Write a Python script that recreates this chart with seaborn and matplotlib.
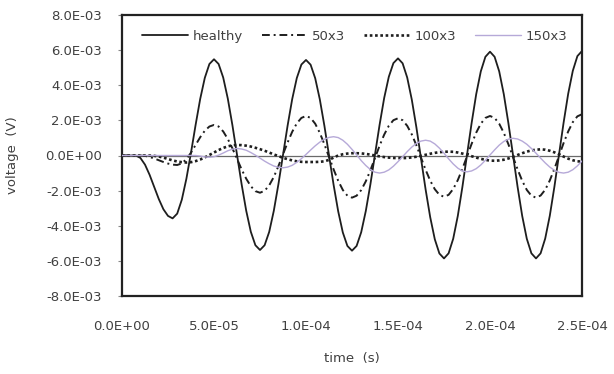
import numpy as np
import pandas as pd
import matplotlib
matplotlib.use("Agg")
import matplotlib.pyplot as plt
import seaborn as sns
from matplotlib.ticker import FuncFormatter, MultipleLocator

# sample times (microseconds), 2.5 us grid
time_us = np.linspace(0, 250, 101)

# voltages, in mV
healthy = [0, 0, 0, 0, -0.14, -0.52, -1.10, -1.79, -2.48, -3.06, -3.44,
           -3.58, -3.31, -2.52, -1.32, 0.16, 1.74, 3.22, 4.42, 5.21, 5.48,
           5.21, 4.44, 3.24, 1.73, 0.05, -1.63, -3.14, -4.34, -5.11, -5.38,
           -5.11, -4.35, -3.15, -1.64, 0.03, 1.70, 3.21, 4.41, 5.18, 5.44,
           5.17, 4.40, 3.20, 1.69, 0.01, -1.67, -3.18, -4.38, -5.15, -5.42,
           -5.15, -4.37, -3.16, -1.64, 0.06, 1.75, 3.28, 4.48, 5.26, 5.53,
           5.25, 4.44, 3.18, 1.60, -0.17, -1.93, -3.51, -4.77, -5.58, -5.86,
           -5.57, -4.74, -3.44, -1.79, 0.03, 1.84, 3.49, 4.79, 5.62, 5.91,
           5.62, 4.79, 3.49, 1.84, 0.03, -1.79, -3.44, -4.74, -5.57, -5.86,
           -5.57, -4.73, -3.43, -1.78, 0.05, 1.87, 3.52, 4.82, 5.66, 5.95]

fault_50 = [0, 0, 0, 0, 0,
            -0.02, -0.08, -0.17, -0.27, -0.37, -0.46, -0.52, -0.54,
            -0.45, -0.21, 0.16, 0.60, 1.04, 1.41, 1.65, 1.74,
            1.65, 1.37, 0.94, 0.41, -0.19, -0.79, -1.32, -1.75, -2.03, -2.12,
            -2.01, -1.70, -1.22, -0.61, 0.07, 0.74, 1.35, 1.83, 2.14, 2.25,
            2.14, 1.81, 1.29, 0.64, -0.08, -0.79, -1.44, -1.96, -2.29, -2.40,
            -2.29, -1.97, -1.47, -0.84, -0.14, 0.56, 1.19, 1.69, 2.01, 2.12,
            2.01, 1.69, 1.20, 0.58, -0.12, -0.81, -1.43, -1.92, -2.24, -2.35,
            -2.24, -1.91, -1.40, -0.76, -0.05, 0.66, 1.30, 1.81, 2.14, 2.25,
            2.14, 1.81, 1.29, 0.64, -0.08, -0.79, -1.44, -1.96, -2.29, -2.40,
            -2.28, -1.95, -1.42, -0.76, -0.03, 0.71, 1.37, 1.90, 2.23, 2.35]

fault_100 = [0, 0, 0, 0, 0, 0, 0,
             -0.02, -0.06, -0.12, -0.20, -0.28, -0.34, -0.38, -0.40,
             -0.38, -0.32, -0.23, -0.11, 0.03, 0.17, 0.31, 0.43, 0.52, 0.58, 0.60,
             0.59, 0.56, 0.51, 0.44, 0.36, 0.27, 0.17, 0.06, -0.03, -0.13,
             -0.21, -0.28, -0.33, -0.36, -0.37,
             -0.37, -0.37, -0.36, -0.33, -0.25, -0.12, 0.0, 0.07, 0.11, 0.13,
             0.13, 0.12, 0.09, 0.05, 0.0, -0.05, -0.09, -0.12, -0.14, -0.15,
             -0.15, -0.14, -0.11, -0.07, -0.02, 0.04, 0.10, 0.15, 0.19, 0.21, 0.22,
             0.21, 0.17, 0.11, 0.04, -0.04, -0.12, -0.19, -0.25, -0.29, -0.30,
             -0.28, -0.24, -0.17, -0.08, 0.03, 0.13, 0.22, 0.29, 0.33, 0.35,
             0.33, 0.27, 0.18, 0.06, -0.06, -0.18, -0.27, -0.33, -0.35]

fault_150 = [0] * 17 + [
    -0.03, -0.08, -0.10, -0.07, 0.02, 0.14, 0.27, 0.36, 0.40,
    0.37, 0.30, 0.17, 0.02, -0.15, -0.32, -0.47, -0.60, -0.67, -0.70,
    -0.66, -0.56, -0.39, -0.18, 0.06, 0.31, 0.55, 0.76, 0.93, 1.03, 1.07,
    1.02, 0.87, 0.64, 0.35, 0.04, -0.29, -0.57, -0.80, -0.95, -1.00,
    -0.95, -0.82, -0.61, -0.35, -0.07, 0.22, 0.48, 0.69, 0.82, 0.87,
    0.82, 0.66, 0.42, 0.13, -0.19, -0.48, -0.72, -0.88, -0.93,
    -0.88, -0.75, -0.54, -0.27, 0.03, 0.32, 0.59, 0.80, 0.93, 0.98,
    0.94, 0.82, 0.64, 0.40, 0.13, -0.15, -0.42, -0.66, -0.84, -0.96, -1.00,
    -0.95, -0.81, -0.59, -0.31]

labels = ["healthy", "50x3", "100x3", "150x3"]

df = pd.DataFrame({
    "time": time_us * 1e-6,
    "healthy": np.array(healthy) * 1e-3,
    "50x3": np.array(fault_50) * 1e-3,
    "100x3": np.array(fault_100) * 1e-3,
    "150x3": np.array(fault_150) * 1e-3,
})

sns.set_style("white")
plt.rcParams["font.family"] = ["DejaVu Sans"]
txt = "#404040"

fig = plt.figure(figsize=(6.14, 3.74), dpi=100)
ax = fig.add_axes([122 / 614, 1 - 296 / 374, 460 / 614, 281 / 374])

ax.axhline(0, color="#6a6a6a", lw=0.9, zorder=1)

styles = {
    "healthy": dict(color="#1e1e1e", lw=1.3, ls="-"),
    "50x3": dict(color="#1e1e1e", lw=1.4, ls=(0, (4, 2, 1, 2))),
    "100x3": dict(color="#1e1e1e", lw=1.9, ls=(0, (1, 1))),
    "150x3": dict(color="#b6a9d8", lw=1.0, ls="-"),
}
for name in labels:
    sns.lineplot(data=df, x="time", y=name, ax=ax, label=name,
                 errorbar=None, zorder=3, **styles[name])

ax.set_xlim(0, 2.5e-4)
ax.set_ylim(-8e-3, 8e-3)
ax.xaxis.set_major_locator(MultipleLocator(5e-5))
ax.yaxis.set_major_locator(MultipleLocator(2e-3))
fmt = FuncFormatter(lambda v, p: f"{v:.1E}")
ax.xaxis.set_major_formatter(fmt)
ax.yaxis.set_major_formatter(fmt)

ax.tick_params(axis="y", length=3, width=0.8, color="#888888", pad=11.5,
               labelsize=9.5, labelcolor=txt, left=True)
ax.tick_params(axis="x", length=0, pad=17, labelsize=9.5, labelcolor=txt)

for s in ax.spines.values():
    s.set_color("#222222")
    s.set_linewidth(1.6)

ax.set_xlabel("time  (s)", fontsize=9.5, color=txt)
ax.set_ylabel("voltage  (V)", fontsize=9.5, color=txt)
ax.xaxis.set_label_coords(0.5, -0.2)
ax.yaxis.set_label_coords(-0.237, 0.5)
ax.yaxis.label.set_va("center")

ax.legend(ncol=4, frameon=False, loc="center", bbox_to_anchor=(0.506, 0.925),
          fontsize=9.5, labelcolor=txt, handlelength=3.5, handletextpad=0.35,
          columnspacing=1.4, borderaxespad=0)

fig.savefig("out.png", dpi=100)
